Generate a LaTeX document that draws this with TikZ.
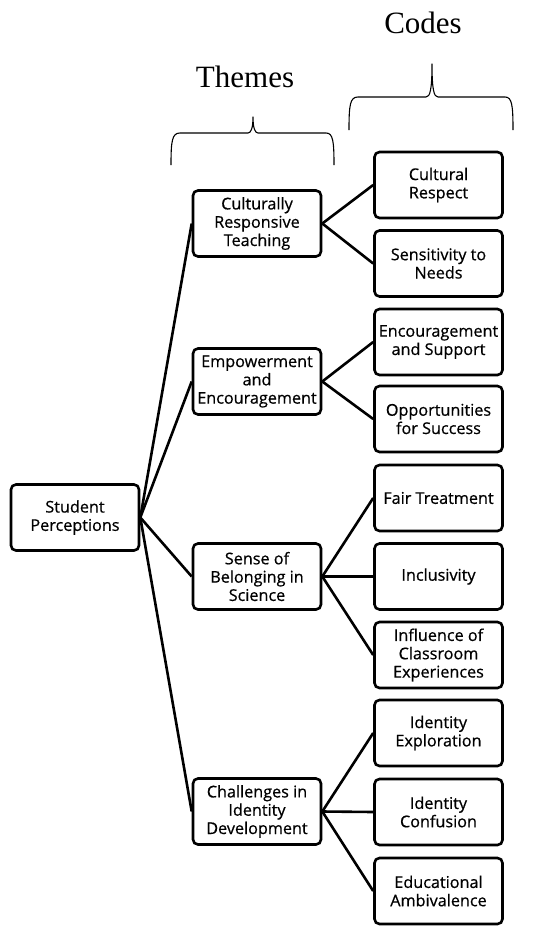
\documentclass[tikz,border=0pt]{standalone}
\usepackage{fontspec}
\setmainfont{Liberation Serif}
\newfontfamily\boxfont[FakeBold=0.6]{Open Sans}
\begin{document}
\begin{tikzpicture}[x=1pt,y=-1pt,
  box/.style={draw, line width=2.6pt, rounded corners=5pt, minimum width=128pt, minimum height=66pt, align=center, inner sep=1pt, font=\boxfont\fontsize{16.2}{18.3}\selectfont},
  conn/.style={line width=2.6pt},
  brace/.style={line width=1.1pt, line join=round},
  title/.style={font=\fontsize{31}{36}\selectfont, inner sep=0pt}]
\useasboundingbox (0,0) rectangle (550,935);
% titles
\node[title] (codes) at (423,23) {Codes};
\node[title] (themes) at (245,77) {Themes};
% braces
\draw[brace] (349,130) .. controls (349,105) and (350,97) .. (358,97) -- (426,97) .. controls (430,97) and (432,90) .. (432,64)
  .. controls (432,90) and (434,97) .. (438,97) -- (505,97) .. controls (512,97) and (513,105) .. (513,130);
\draw[brace] (171,165) .. controls (171,141) and (172,133) .. (180,133) -- (248,133) .. controls (251,133) and (253,128) .. (253,117)
  .. controls (253,128) and (255,133) .. (258,133) -- (326,133) .. controls (333,133) and (334,141) .. (334,165);
% root
\node[box] (sp) at (75,517.5) {Student\\Perceptions};
% themes
\node[box] (crt) at (257,223.5) {Culturally\\Responsive\\Teaching};
\node[box] (ee) at (257,381.5) {Empowerment\\and\\Encouragement};
\node[box] (sb) at (257,576.5) {Sense of\\Belonging in\\Science};
\node[box] (ci) at (257,811.5) {Challenges in\\Identity\\Development};
% codes
\node[box] (cr) at (438.5,185) {Cultural\\Respect};
\node[box] (sn) at (438.5,263.5) {Sensitivity to\\Needs};
\node[box] (es) at (438.5,342) {Encouragement\\and Support};
\node[box] (os) at (438.5,419) {Opportunities\\for Success};
\node[box] (ft) at (438.5,498) {Fair Treatment};
\node[box] (in) at (438.5,576.5) {Inclusivity};
\node[box] (ic) at (438.5,655) {Influence of\\Classroom\\Experiences};
\node[box] (ie) at (438.5,733) {Identity\\Exploration};
\node[box] (idc) at (438.5,812) {Identity\\Confusion};
\node[box] (ea) at (438.5,891) {Educational\\Ambivalence};
% connectors
\foreach \t in {crt,ee,sb,ci} \draw[conn] (sp.east) -- (\t.west);
\draw[conn] (crt.east) -- (cr.west);
\draw[conn] (crt.east) -- (sn.west);
\draw[conn] (ee.east) -- (es.west);
\draw[conn] (ee.east) -- (os.west);
\draw[conn] (sb.east) -- (ft.west);
\draw[conn] (sb.east) -- (in.west);
\draw[conn] (sb.east) -- (ic.west);
\draw[conn] (ci.east) -- (ie.west);
\draw[conn] (ci.east) -- (idc.west);
\draw[conn] (ci.east) -- (ea.west);
\end{tikzpicture}
\end{document}
